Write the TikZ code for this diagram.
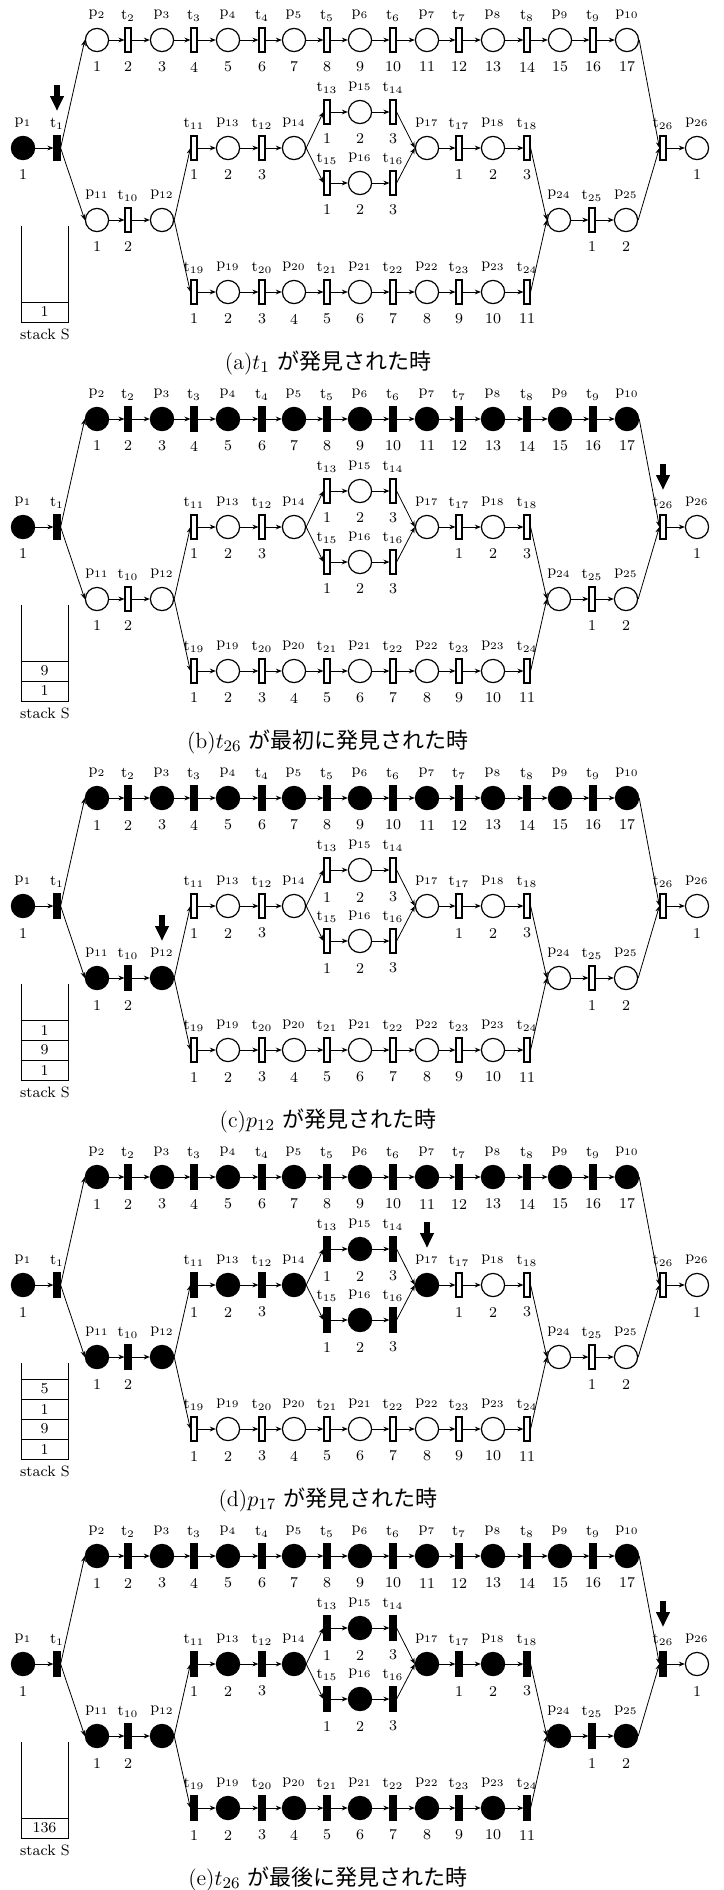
\documentclass[tikz,border=0pt]{standalone}
\usepackage{fontspec}
\newfontfamily\jpfont{Noto Sans CJK JP}
\usepackage{tikz}
\usetikzlibrary{arrows.meta}
\tikzset{
  place/.style={circle,draw,line width=0.6pt,minimum size=11.6pt,inner sep=0pt},
  trans/.style={rectangle,draw,line width=0.6pt,minimum width=3pt,minimum height=12pt,inner sep=0pt},
  arc/.style={-{Stealth[length=3pt,width=2.4pt]},line width=0.4pt},
  found/.style={-{Triangle[length=7.5pt,width=6.5pt]},line width=3pt},
  lbl/.style={font=\fontsize{7.5}{8}\selectfont,inner sep=0pt},
  capt/.style={font=\fontsize{11}{13}\selectfont,inner sep=0pt},
}

\begin{document}
\begin{tikzpicture}[x=0.5pt,y=-0.5pt]
  \useasboundingbox (0,0) rectangle (723,1890);
  % one panel per search stage: filled nodes are those with stage <= \k
  \foreach \k/\dy/\tgt/\stk/\capt in {
    1/0/t1/{1}/{(a)$t_1$ {\jpfont が発見された時}},
    2/379/t26/{1,9}/{(b)$t_{26}$ {\jpfont が最初に発見された時}},
    3/758/p12/{1,9,1}/{(c)$p_{12}$ {\jpfont が発見された時}},
    4/1137/p17/{1,9,1,5}/{(d)$p_{17}$ {\jpfont が発見された時}},
    5/1516/t26/{136}/{(e)$t_{26}$ {\jpfont が最後に発見された時}}}{
  \begin{scope}[shift={(0,\dy)}]
    % places: index/x/y/stage/number (0 = none)
    \foreach \i/\x/\y/\s/\num in {
      1/23/148/1/1, 2/97/40/2/1, 3/162/40/2/3, 4/228/40/2/5, 5/294/40/2/7,
      6/360/40/2/9, 7/427/40/2/11, 8/493/40/2/13, 9/560/40/2/15, 10/627/40/2/17,
      11/97/220/3/1, 12/162/220/3/0, 13/228/148/4/2, 14/294/148/4/0,
      15/360/112/4/2, 16/360/183/4/2, 17/427/148/4/0, 18/493/148/5/2,
      19/228/292/5/2, 20/294/292/5/4, 21/360/292/5/6, 22/427/292/5/8,
      23/493/292/5/10, 24/559/220/5/0, 25/626/220/5/2, 26/697/148/6/1}{
      \ifnum\s>\k \def\col{white}\else\def\col{black}\fi
      \node[place,fill=\col] (p\i) at (\x,\y) {};
      \node[lbl] (lp\i) at ([yshift=12.5pt]p\i.center) {p$_{\i}$};
      \ifnum\num=0 \else\node[lbl] (np\i) at ([yshift=-13.5pt]p\i.center) {\num};\fi
    }
    % transitions
    \foreach \i/\x/\y/\s/\num in {
      1/57/148/1/0, 2/128/40/2/2, 3/194/40/2/4, 4/262/40/2/6, 5/327/40/2/8,
      6/393/40/2/10, 7/459/40/2/12, 8/527/40/2/14, 9/593/40/2/16,
      10/128/220/3/2, 11/194/148/4/1, 12/262/148/4/3, 13/327/112/4/1,
      14/393/112/4/3, 15/327/183/4/1, 16/393/183/4/3, 17/459/148/5/1,
      18/527/148/5/3, 19/194/292/5/1, 20/262/292/5/3, 21/327/292/5/5,
      22/393/292/5/7, 23/459/292/5/9, 24/527/292/5/11, 25/592/220/5/1,
      26/663/148/5/0}{
      \ifnum\s>\k \def\col{white}\else\def\col{black}\fi
      \node[trans,fill=\col] (t\i) at (\x,\y) {};
      \node[lbl] (lt\i) at ([yshift=12pt]t\i.center) {t$_{\i}$};
      \ifnum\num=0 \else\node[lbl] (nt\i) at ([yshift=-13.5pt]t\i.center) {\num};\fi
    }
    % arcs
    \foreach \a/\b in {p1/t1, t1/p2, t1/p11, p2/t2, t2/p3, p3/t3, t3/p4, p4/t4,
      t4/p5, p5/t5, t5/p6, p6/t6, t6/p7, p7/t7, t7/p8, p8/t8, t8/p9, p9/t9,
      t9/p10, p10/t26, t26/p26, p11/t10, t10/p12, p12/t11, p12/t19, t11/p13,
      p13/t12, t12/p14, p14/t13, p14/t15, t13/p15, p15/t14, t15/p16, p16/t16,
      t14/p17, t16/p17, p17/t17, t17/p18, p18/t18, t18/p24, t19/p19, p19/t20,
      t20/p20, p20/t21, t21/p21, p21/t22, t22/p22, p22/t23, t23/p23, p23/t24,
      t24/p24, p24/t25, t25/p25, p25/t26}
      \draw[arc] (\a.east) -- (\b.west);
    % pointer to the node just found
    \draw[found] ([yshift=31.5pt]\tgt.center) -- ([yshift=18.5pt]\tgt.center);
    % stack S
    \draw[line width=0.5pt] (21,226) |- (68,322) -- (68,226);
    \foreach \v [count=\c] in \stk {
      \draw[line width=0.5pt] (21,{322-20*\c}) -- (68,{322-20*\c});
      \node[lbl] (s\c) at (44.5,{312-20*(\c-1)}) {\v};
    }
    \node[lbl] (stk) at (45,334) {stack S};
    \node[capt] (cap) at (328,363) {\capt};
  \end{scope}
  }
\end{tikzpicture}
\end{document}
